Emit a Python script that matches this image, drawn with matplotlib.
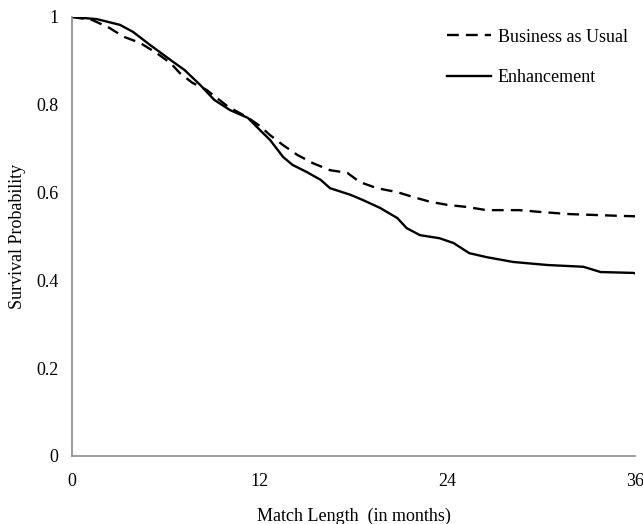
import matplotlib
matplotlib.use("Agg")
import matplotlib.pyplot as plt

plt.rcParams['font.family'] = ['Liberation Serif', 'DejaVu Serif']

# survival curves (months, probability)
bau_months = [0, 1.3, 2.4, 3.3, 4.35, 5.4, 6.3, 6.9, 7.7, 8.6, 10.0, 11.2, 12.0,
              12.66, 13.5, 14.4, 15.4, 16.5, 17.6, 18.4, 19.5, 20.8, 21.8, 22.9,
              24.0, 25.3, 26.5, 28.6, 29.9, 31.8, 35.0, 36.0]
bau_surv = [1.0, 0.993, 0.975, 0.955, 0.941, 0.918, 0.895, 0.872, 0.850, 0.834, 0.795,
            0.772, 0.752, 0.731, 0.708, 0.686, 0.667, 0.651, 0.645, 0.624, 0.610,
            0.601, 0.590, 0.579, 0.572, 0.567, 0.560, 0.560, 0.556, 0.551, 0.547, 0.546]

enh_months = [0, 1.6, 3.07, 3.9, 5.0, 6.3, 7.2, 8.2, 9.1, 10.1, 11.25, 12.0, 12.66,
              13.5, 14.1, 15.0, 15.9, 16.5, 17.8, 18.6, 19.7, 20.8, 21.4, 22.25,
              23.5, 24.4, 25.4, 26.5, 28.2, 30.4, 32.7, 33.8, 35.9, 36.0]
enh_surv = [1.0, 0.995, 0.982, 0.966, 0.936, 0.902, 0.879, 0.845, 0.811, 0.788, 0.770,
            0.743, 0.720, 0.681, 0.663, 0.647, 0.629, 0.610, 0.595, 0.583, 0.565,
            0.542, 0.519, 0.503, 0.496, 0.485, 0.462, 0.453, 0.442, 0.435, 0.431,
            0.419, 0.417, 0.416]

x_ticks = [0, 12, 24, 36]
y_ticks = [0, 0.2, 0.4, 0.6, 0.8, 1]
y_labels = ['0', '0.2', '0.4', '0.6', '0.8', '1']

fig = plt.figure(figsize=(6.43, 5.24), dpi=100)
ax = fig.add_axes([0.112, 0.1298, 0.8756, 0.8378])

ax.plot(bau_months, bau_surv, color='black', lw=1.7, dashes=(5, 3),
        label='Business as Usual')
ax.plot(enh_months, enh_surv, color='black', lw=1.7, label='Enhancement')

ax.set_xlim(0, 36)
ax.set_ylim(0, 1)
ax.set_xticks(x_ticks)
ax.set_yticks(y_ticks)
ax.set_yticklabels(y_labels)
ax.tick_params(axis='both', length=0, labelsize=13)
ax.tick_params(axis='x', pad=12)
ax.tick_params(axis='y', pad=10)

for s in ['top', 'right']:
    ax.spines[s].set_visible(False)
for s in ['left', 'bottom']:
    ax.spines[s].set_color('#8c8c8c')
    ax.spines[s].set_linewidth(1.2)

ax.set_xlabel('Match Length  (in months)', fontsize=13, labelpad=13)
ax.set_ylabel('Survival Probability', fontsize=13, labelpad=7)

ax.legend(loc='upper right', bbox_to_anchor=(1.0, 0.99), frameon=False,
          fontsize=13, handlelength=2.45, handletextpad=0.35, labelspacing=1.3,
          borderaxespad=0.0)

fig.savefig('out.png', dpi=100)
